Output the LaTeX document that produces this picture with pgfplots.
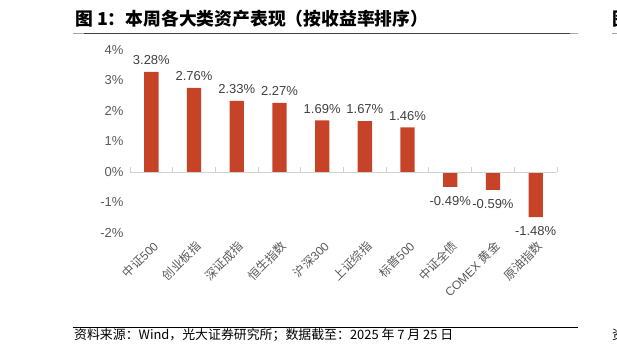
\documentclass[border=0pt]{standalone}
\usepackage{pgfplots}
\pgfplotsset{compat=1.18}
\usepackage{fontspec}
\setmainfont{Liberation Sans}
\newfontfamily\cjk{Noto Sans CJK SC}
\definecolor{barred}{RGB}{199,67,40}
\definecolor{tickgray}{RGB}{89,89,89}
\definecolor{labgray}{RGB}{64,64,64}
\begin{document}
\begin{tikzpicture}
\useasboundingbox (0,0) rectangle (617bp,-352bp);
% title
\node[anchor=west,inner sep=0pt,font=\cjk\bfseries\fontsize{17.8bp}{20bp}\selectfont] at (75bp,-19bp) {图 1：本周各大类资产表现（按收益率排序）};
\draw[color=black!75,line width=1bp] (73bp,-33bp) -- (578bp,-33bp);
\draw[color=gray!70,line width=1.6bp] (73bp,-33.4bp) -- (84bp,-33.4bp);
\draw[color=gray!70,line width=1.6bp] (570bp,-33.4bp) -- (578bp,-33.4bp);
% cut-off neighbour fragments
\node[anchor=west,inner sep=0pt,font=\cjk\bfseries\fontsize{17.8bp}{20bp}\selectfont] at (612bp,-19bp) {图};
\draw[color=gray!70,line width=1.6bp] (612bp,-33.4bp) -- (620bp,-33.4bp);
\node[anchor=west,inner sep=0pt,font=\cjk\fontsize{12.9bp}{15bp}\selectfont] at (612bp,-335bp) {资};
% footer
\draw[color=black,line width=1bp] (73bp,-327bp) -- (578bp,-327bp);
\node[anchor=west,inner sep=0pt,font=\cjk\fontsize{12.9bp}{15bp}\selectfont] at (74bp,-335.5bp) {资料来源：Wind，光大证券研究所；数据截至：2025 年 7 月 25 日};
\begin{axis}[
  at={(130bp,-233bp)}, anchor=south west,
  scale only axis, width=427bp, height=183bp,
  xmin=-0.5, xmax=9.5, ymin=-2, ymax=4,
  clip=false,
  axis line style={draw=none},
  tick style={draw=none},
  ytick={-2,-1,0,1,2,3,4},
  yticklabels={-2\%,-1\%,0\%,1\%,2\%,3\%,4\%},
  yticklabel style={font=\fontsize{13bp}{15bp}\selectfont, text=tickgray, xshift=-3bp},
  xtick={0,1,2,3,4,5,6,7,8,9},
  xticklabels={{\cjk 中证}500,{\cjk 创业板指},{\cjk 深证成指},{\cjk 恒生指数},{\cjk 沪深}300,{\cjk 上证综指},{\cjk 标普}500,{\cjk 中证全债},COMEX {\cjk 黄金},{\cjk 原油指数}},
  xticklabel style={rotate=45, anchor=east, font=\fontsize{12bp}{14bp}\selectfont, text=tickgray, inner sep=0pt, yshift=-8bp, xshift=-1.5bp},
  ybar, bar width=14.3bp,
  point meta=explicit symbolic,
  nodes near coords,
]
\addplot[fill=barred, draw=none, bar shift=0pt,
  every node near coord/.append style={anchor=south, font=\fontsize{13bp}{15bp}\selectfont, text=labgray, yshift=3.5bp}]
  coordinates {(0,3.28) [3.28\%] (1,2.76) [2.76\%] (2,2.33) [2.33\%] (3,2.27) [2.27\%] (4,1.69) [1.69\%] (5,1.67) [1.67\%] (6,1.46) [1.46\%]};
\addplot[fill=barred, draw=none, bar shift=0pt,
  every node near coord/.append style={anchor=north, font=\fontsize{13bp}{15bp}\selectfont, text=labgray, yshift=-5.5bp}]
  coordinates {(7,-0.49) [-0.49\%] (8,-0.59) [-0.59\%] (9,-1.48) [-1.48\%]};
\draw[color=black!18, line width=1bp] (axis cs:-0.5,0) -- (axis cs:9.5,0);
\pgfplotsinvokeforeach{-0.5,0.5,1.5,2.5,3.5,4.5,5.5,6.5,7.5,8.5,9.5}{
  \draw[color=black!18, line width=1bp] (axis cs:#1,0) -- ([yshift=5bp]axis cs:#1,0);
}
\end{axis}
\end{tikzpicture}
\end{document}
